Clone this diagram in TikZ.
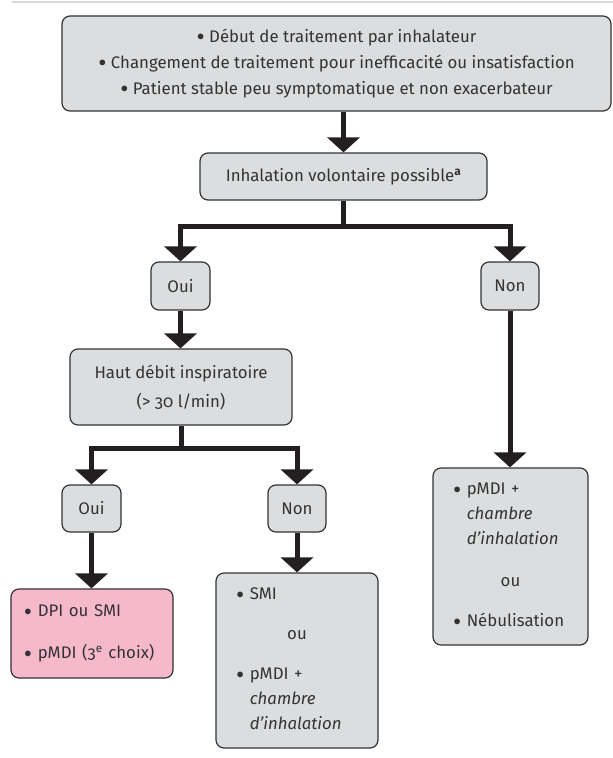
\documentclass[tikz,border=0pt]{standalone}
\usepackage{fontspec}
\setmainfont{Fira Sans}[Numbers=OldStyle]
\usetikzlibrary{arrows.meta}
\definecolor{boxgrey}{HTML}{DCDDDF}
\definecolor{boxpink}{HTML}{F6B9CC}
\definecolor{inkgrey}{HTML}{333333}
\definecolor{arrowink}{HTML}{231F20}
\newcommand{\bul}{\raisebox{-0.4ex}{\scalebox{1.5}{\textbullet}}\ }
\newcommand{\ind}{\phantom{\bul}}

\begin{document}
\begin{tikzpicture}[x=1bp, y=-1bp,
		every node/.style={font=\fontsize{16.8bp}{25bp}\selectfont, text=inkgrey},
		box/.style={draw=inkgrey, line width=1.2bp, rounded corners=8bp, fill=boxgrey, inner sep=0pt, align=center},
		conn/.style={line width=5bp, color=arrowink, -{Triangle[width=32bp,length=15bp]}},
		link/.style={line width=5bp, color=arrowink}]
		%%%%% START %%%%%
		\useasboundingbox (0,0) rectangle (613,758);
		\draw[line width=1.5bp, color=black!15] (12,2) -- (613,2);
		
		\node[box, minimum width=549bp, minimum height=95bp] (debut) at (336.5,63.5)
		{\bul Début de traitement par inhalateur\\[1bp]
			\bul Changement de traitement pour inefficacité ou insatisfaction\\[1bp]
			\bul Patient stable peu symptomatique et non exacerbateur};
		\node[box, minimum width=287bp, minimum height=47bp] (inhal) at (343.5,176.5)
		{Inhalation volontaire possible\textsuperscript{\textbf{a}}};
		
		\node[box, minimum width=59bp, minimum height=48bp] (oui) at (180.5,286) {Oui};
		\node[box, minimum width=58bp, minimum height=48bp] (non) at (510,286) {Non};
		
		\node[box, minimum width=222bp, minimum height=76bp] (debit) at (181,387)
		{Haut débit inspiratoire\\[4bp] (> 30 l/min)};
		
		\node[box, minimum width=59bp, minimum height=47bp] (ouiB) at (91.5,508.5) {Oui};
		\node[box, minimum width=58bp, minimum height=47bp] (nonB) at (297,508.5) {Non};
		
		% choix finaux
		\node[box, fill=boxpink, align=left, text width=136bp, inner xsep=13bp, minimum height=89bp] (dpi) at (92,633.5)
		{\bul DPI ou SMI\\[17bp] \bul pMDI (3\textsuperscript{e} choix)};
		\node[box, align=left, text width=122bp, inner xsep=20bp, minimum height=175bp] (smi) at (297,660.5)
		{\bul SMI\\[15bp] \makebox[\hsize]{ou}\\[15bp] \bul pMDI +\\ \ind\textit{chambre}\\ \ind\textit{d’inhalation}};
		\node[box, align=left, text width=115bp, inner xsep=20bp, minimum height=177bp] (nebu) at (510.5,556.5)
		{\bul pMDI +\\ \ind\textit{chambre}\\ \ind\textit{d’inhalation}\\[17bp] \makebox[\hsize]{ou}\\[15bp] \bul Nébulisation};
		
		% fleches
		\draw[conn] (inhal.north |- debut.south) -- (inhal.north);
		\coordinate (splitA) at (inhal.south |- 0,226);
		\draw[link] (inhal.south) -- (splitA);
		\draw[conn] (splitA) -| (oui.north);
		\draw[conn] (splitA) -| (non.north);
		\draw[conn] (oui.south) -- (oui.south |- debit.north);
		\draw[conn] (non.south) -- (non.south |- nebu.north);
		
		\coordinate (splitB) at (debit.south |- 0,448);
		\draw[link] (debit.south) -- (splitB);
		\draw[conn] (splitB) -| (ouiB.north);
		\draw[conn] (splitB) -| (nonB.north);
		\draw[conn] (ouiB.south) -- (ouiB.south |- dpi.north);
		\draw[conn] (nonB.south) -- (nonB.south |- smi.north);
		%%%%% END %%%%%
\end{tikzpicture}
\end{document}
